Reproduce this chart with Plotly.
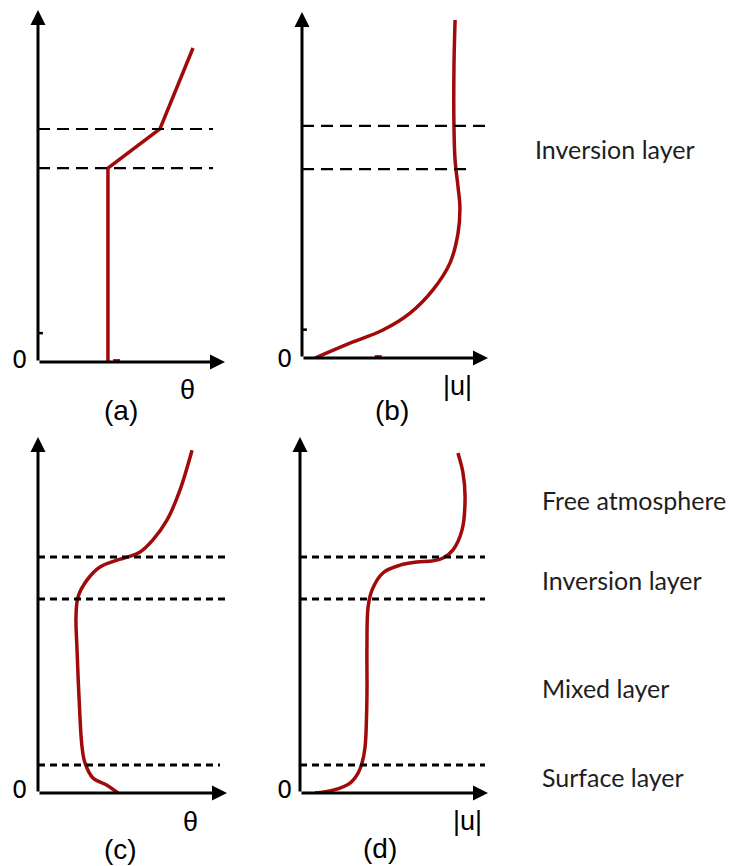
import plotly.graph_objects as go

W, H = 729, 866

# ---- profile data (value normalised to the arrow length, height 0..1) ----
# (a) potential temperature, idealised mixed layer with capping inversion
theta_a_x = [0.374, 0.374, 0.652, 0.829]
theta_a_z = [0.000, 0.551, 0.662, 0.892]

# (b) wind speed, idealised
u_b_x = [0.070, 0.258, 0.435, 0.581, 0.704, 0.796, 0.839, 0.849, 0.839, 0.823, 0.817, 0.817, 0.823]
u_b_z = [0.000, 0.043, 0.081, 0.130, 0.197, 0.275, 0.361, 0.436, 0.494, 0.572, 0.668, 0.841, 0.977]

# (c) potential temperature, realistic
theta_c_x = [0.423, 0.365, 0.291, 0.249, 0.233, 0.217, 0.206, 0.201, 0.212, 0.259, 0.328,
             0.418, 0.476, 0.540, 0.608, 0.683, 0.751, 0.815]
theta_c_z = [0.000, 0.022, 0.042, 0.084, 0.129, 0.270, 0.410, 0.494, 0.551, 0.598, 0.635,
             0.654, 0.663, 0.677, 0.711, 0.767, 0.851, 0.963]

# (d) wind speed, realistic
u_d_x = [0.080, 0.176, 0.266, 0.309, 0.330, 0.346, 0.356, 0.356, 0.362, 0.383, 0.441,
         0.532, 0.622, 0.707, 0.761, 0.814, 0.862, 0.878, 0.867, 0.840]
u_d_z = [0.000, 0.008, 0.028, 0.056, 0.084, 0.129, 0.270, 0.410, 0.522, 0.570, 0.618,
         0.640, 0.649, 0.652, 0.660, 0.683, 0.739, 0.831, 0.899, 0.955]

# layer boundary heights and how far the dashed guide reaches along x
layers_a = [0.551, 0.662]
layers_a_end = [0.936, 0.936]
layers_b = [0.546, 0.671]
layers_b_end = [0.919, 0.984]
layers_c = [0.079, 0.545, 0.663]
layers_c_end = [0.963, 1.0, 1.0]
layers_d = [0.079, 0.545, 0.663]
layers_d_end = [0.984, 0.984, 0.984]

# small marks left on the axes of the idealised panels (a) and (b)
surface_tick_z = [0.082, 0.082]
red_nub_x = [0.42, 0.41]

panel_tags = ["(a)", "(b)", "(c)", "(d)"]
x_names = ["θ", "|u|", "θ", "|u|"]
origin_label = "0"
layer_names_top = ["Inversion layer"]
layer_names_bottom = ["Free atmosphere", "Inversion layer", "Mixed layer", "Surface layer"]

RED = "#a00a0a"
SANS = "Liberation Sans, Arial, sans-serif"
WIDE_SANS = "DejaVu Sans, Verdana, sans-serif"
LABEL_FONT = "Lato, Open Sans, sans-serif"


def px_x(p):
    return p / W


def px_y(p):
    return 1 - p / H


# panel frames in pixels: (left, right, top, bottom)
frames = [(38, 225, 10, 362), (302, 488, 12, 358), (38, 227, 437, 793), (300, 488, 437, 793)]

fig = go.Figure()
layout = dict(
    width=W, height=H, margin=dict(l=0, r=0, t=0, b=0),
    paper_bgcolor="white", plot_bgcolor="rgba(0,0,0,0)", showlegend=False,
)
for i, (l, r, t, b) in enumerate(frames):
    sfx = "" if i == 0 else str(i + 1)
    layout["xaxis" + sfx] = dict(domain=[px_x(l), px_x(r)], range=[0, 1], visible=False,
                                 anchor="y" + sfx, fixedrange=True)
    layout["yaxis" + sfx] = dict(domain=[px_y(b), px_y(t)], range=[0, 1], visible=False,
                                 anchor="x" + sfx, fixedrange=True)
fig.update_layout(**layout)

profiles = [(theta_a_x, theta_a_z, "linear"), (u_b_x, u_b_z, "spline"),
            (theta_c_x, theta_c_z, "spline"), (u_d_x, u_d_z, "spline")]
layer_sets = [(layers_a, layers_a_end, "12px,7px", 2.2), (layers_b, layers_b_end, "12px,7px", 2.2),
              (layers_c, layers_c_end, "7px,5px", 3), (layers_d, layers_d_end, "7px,5px", 3)]

annotations = []
shapes = []
for i, (l, r, t, b) in enumerate(frames):
    sfx = "" if i == 0 else str(i + 1)
    xr, yr = "x" + sfx, "y" + sfx

    # dashed layer boundaries
    zs, ends, dash, lw = layer_sets[i]
    for z, e in zip(zs, ends):
        shapes.append(dict(type="line", xref=xr, yref=yr, x0=0, x1=e, y0=z, y1=z,
                           line=dict(color="black", width=lw, dash=dash)))

    # tiny leftover marks on the axes of (a) and (b)
    if i < 2:
        fig.add_trace(go.Scatter(x=[0], y=[surface_tick_z[i]], mode="markers", xaxis=xr, yaxis=yr,
                                 marker=dict(symbol="line-ew", size=7, line=dict(width=2.5, color="black")),
                                 hoverinfo="skip"))
        fig.add_trace(go.Scatter(x=[red_nub_x[i]], y=[0.004], mode="markers", xaxis=xr, yaxis=yr,
                                 marker=dict(symbol="line-ew", size=5, line=dict(width=3, color=RED)),
                                 hoverinfo="skip"))

    # profile curve
    px, pz, shape = profiles[i]
    fig.add_trace(go.Scatter(x=px, y=pz, mode="lines", xaxis=xr, yaxis=yr,
                             line=dict(color=RED, width=3.5, shape=shape, smoothing=1.0),
                             hoverinfo="skip"))

    # axes with arrow heads
    for (hx, hy) in [(0, 1), (1, 0)]:
        annotations.append(dict(x=hx, y=hy, ax=0, ay=0, xref=xr, yref=yr, axref=xr, ayref=yr,
                                text="", showarrow=True, arrowhead=2, arrowsize=1,
                                arrowwidth=3, arrowcolor="black", standoff=0))


def text_at(x, y, text, size, family=SANS, color="black", xanchor="center"):
    annotations.append(dict(x=px_x(x), y=px_y(y), xref="paper", yref="paper", text=text,
                            xanchor=xanchor, yanchor="middle", showarrow=False,
                            font=dict(family=family, size=size, color=color)))


# origin, axis names and panel tags
origin_pos = [(19, 360), (284, 359), (19, 790), (284, 790)]
name_pos = [(188, 390), (458, 386), (190, 822), (467, 821)]
tag_pos = [(121, 410), (392, 410), (120, 849), (380, 848)]
for i in range(4):
    text_at(*origin_pos[i], origin_label, 24, family=WIDE_SANS)
    text_at(*name_pos[i], x_names[i], 27)
    text_at(*tag_pos[i], panel_tags[i], 28)

# layer names on the right
top_label_y = [149]
bottom_label_y = [500, 580, 688, 777]
for name, y in zip(layer_names_top, top_label_y):
    text_at(533, y, name, 25, family=LABEL_FONT, color="#1e1e1e", xanchor="left")
for name, y in zip(layer_names_bottom, bottom_label_y):
    text_at(540, y, name, 25, family=LABEL_FONT, color="#1e1e1e", xanchor="left")

fig.update_layout(annotations=annotations, shapes=shapes)
fig.write_html("out.html")
